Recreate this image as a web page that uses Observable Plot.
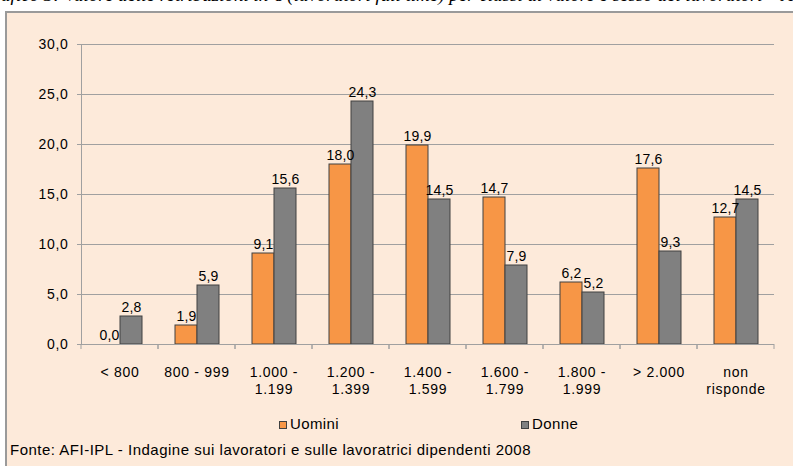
<!DOCTYPE html>
<html>
<head>
<meta charset="utf-8">
<script src="https://cdn.jsdelivr.net/npm/d3@7"></script>
<script src="https://cdn.jsdelivr.net/npm/@observablehq/plot@0.6"></script>
<style>
  html, body { margin: 0; padding: 0; background: #ffffff; }
  #wrap { position: relative; width: 793px; height: 466px; overflow: hidden; font-family: "Liberation Sans", Arial, sans-serif; }
  #title { position: absolute; left: -20px; top: -15px; white-space: nowrap; font-family: "Liberation Serif", "Times New Roman", serif; font-style: italic; font-size: 19px; line-height: 19px; color: #000; }
  #frame { position: absolute; left: 5px; top: 11px; width: 900px; height: 600px; background: #FDEADA; border: 2px solid #9a9a9a; }
  #chart { position: absolute; left: 0; top: 0; }
  #chart svg text { letter-spacing: 0.7px; }
  #chart svg g[aria-label="text"] text { letter-spacing: 0.2px; }
  .leg { position: absolute; font-size: 15px; line-height: 17px; letter-spacing: 0.4px; color: #000; white-space: nowrap; }
  .sw { display: inline-block; width: 6px; height: 6px; border: 1px solid #404040; margin-right: 3px; vertical-align: 0px; }
  #caption { position: absolute; left: 10px; top: 441px; font-size: 15px; line-height: 17px; letter-spacing: 0.5px; color: #000; white-space: nowrap; }
</style>
</head>
<body>
<div id="wrap">
  <div id="title">Grafico 3: Valore delle retribuzioni in € (lavoratori full time) per classi di valore e sesso dei lavoratori – Anno 2008</div>
  <div id="frame"></div>
  <div id="chart"></div>
  <div id="legend"></div>
  <div id="caption"></div>
</div>
<script>
const categories = ["< 800", "800 - 999", "1.000 -\n1.199", "1.200 -\n1.399", "1.400 -\n1.599", "1.600 -\n1.799", "1.800 -\n1.999", "> 2.000", "non\nrisponde"];
const series = ["Uomini", "Donne"];
const uomini = [0.0, 1.9, 9.1, 18.0, 19.9, 14.7, 6.2, 17.6, 12.7];
const donne = [2.8, 5.9, 15.6, 24.3, 14.5, 7.9, 5.2, 9.3, 14.5];
const yTicks = [0, 5, 10, 15, 20, 25, 30];
const colors = ["#F79646", "#808080"];
const captionText = "Fonte: AFI-IPL - Indagine sui lavoratori e sulle lavoratrici dipendenti 2008";

const data = categories.flatMap((c, i) => [
  {cat: c, serie: series[0], value: uomini[i]},
  {cat: c, serie: series[1], value: donne[i]}
]);
const fmt = v => v.toFixed(1).replace(".", ",");
const axisGrey = "#a0a0a0";

// tick marks at category boundaries (drawn in each facet, at its edges)
function boundaryTicks(index, scales, values, dimensions) {
  const {marginLeft, marginRight, width} = dimensions;
  const y0 = scales.y(0);
  const g = d3.create("svg:g").attr("stroke", axisGrey).attr("stroke-width", 1);
  for (const x of [marginLeft, width - marginRight]) {
    g.append("line").attr("x1", x).attr("x2", x).attr("y1", y0).attr("y2", y0 + 5);
  }
  return g.node();
}

const chart = Plot.plot({
  width: 793,
  height: 466,
  marginLeft: 79,
  marginRight: 18,
  marginTop: 44,
  marginBottom: 122,
  style: {background: "transparent", fontFamily: "'Liberation Sans', Arial, sans-serif", overflow: "visible"},
  fx: {domain: categories, padding: 0, label: null},
  x: {domain: series, paddingInner: 0, paddingOuter: 0.72, axis: null},
  y: {domain: [0, 30], label: null},
  color: {domain: series, range: colors},
  marks: [
    Plot.gridY(yTicks, {stroke: axisGrey, strokeOpacity: 1}),
    Plot.axisY(yTicks, {tickSize: 4, tickPadding: 9, tickFormat: fmt, fontSize: 14, stroke: axisGrey, fill: "#000", label: null}),
    Plot.axisFx({anchor: "bottom", tickSize: 0, tickPadding: 21, fontSize: 14, lineHeight: 1.2, fill: "#000", label: null}),
    Plot.barY(data, {fx: "cat", x: "serie", y: "value", fill: "serie", stroke: "#404040", strokeWidth: 1}),
    Plot.text(data, {fx: "cat", x: "serie", y: "value", text: d => fmt(d.value), lineAnchor: "bottom", dy: -5, fontSize: 14, fill: "#000"}),
    Plot.ruleY([0], {stroke: axisGrey}),
    Plot.frame({anchor: "left", facetAnchor: "left", stroke: axisGrey}),
    boundaryTicks
  ]
});
document.getElementById("chart").appendChild(chart);

// legend
const legend = document.getElementById("legend");
const legendLeft = [279, 521];
series.forEach((s, i) => {
  const el = document.createElement("div");
  el.className = "leg";
  el.style.left = legendLeft[i] + "px";
  el.style.top = "415px";
  const sw = document.createElement("span");
  sw.className = "sw";
  sw.style.background = colors[i];
  el.appendChild(sw);
  el.appendChild(document.createTextNode(s));
  legend.appendChild(el);
});
document.getElementById("caption").textContent = captionText;
</script>
</body>
</html>
